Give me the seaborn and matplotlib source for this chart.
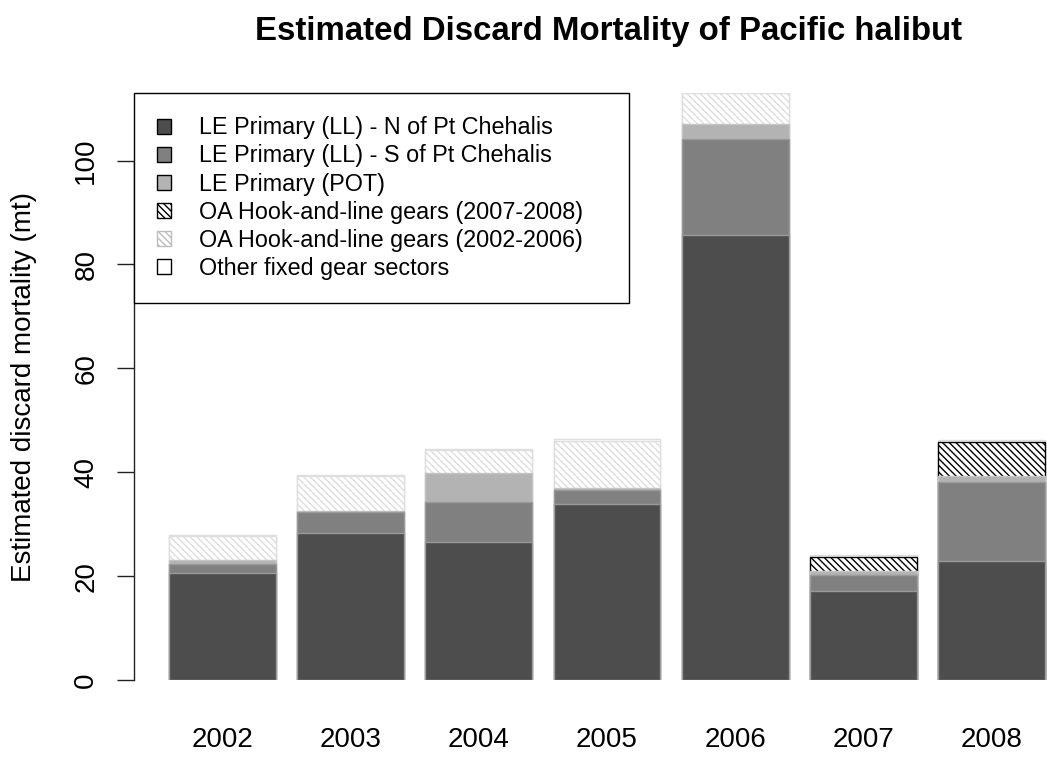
import numpy as np
import pandas as pd
import seaborn as sns
import matplotlib.pyplot as plt
from matplotlib.patches import Patch

years = ['2002', '2003', '2004', '2005', '2006', '2007', '2008']
le_north = [20.6, 28.3, 26.5, 33.9, 85.7, 17.1, 22.9]
le_south = [1.7, 4.1, 7.7, 2.7, 18.5, 3.1, 15.3]
le_pot = [0.8, 0.1, 5.6, 0.3, 2.9, 0.7, 1.0]
oa_0708 = [0, 0, 0, 0, 0, 2.7, 6.6]
oa_0206 = [4.6, 6.7, 4.5, 9.2, 5.9, 0, 0]
other = [0.2, 0.2, 0.2, 0.2, 0.2, 0.5, 0.4]

labels = ['LE Primary (LL) - N of Pt Chehalis', 'LE Primary (LL) - S of Pt Chehalis',
          'LE Primary (POT)', 'OA Hook-and-line gears (2007-2008)',
          'OA Hook-and-line gears (2002-2006)', 'Other fixed gear sectors']

sns.set_theme(style='white')
plt.rcParams['font.family'] = ['Liberation Sans', 'DejaVu Sans']
plt.rcParams['hatch.linewidth'] = 1.0
plt.rcParams['text.color'] = 'black'
plt.rcParams['axes.labelcolor'] = 'black'
plt.rcParams['xtick.color'] = 'black'
plt.rcParams['ytick.color'] = 'black'

# segment styles, bottom to top: (values, face, edge, hatch)
segments = [
    (le_north, '#4d4d4d', '#9a9a9a', ''),
    (le_south, '#808080', '#9a9a9a', ''),
    (le_pot, '#b3b3b3', '#c4c4c4', ''),
    (oa_0708, 'white', 'black', '\\\\\\\\\\'),
    (oa_0206, 'white', '#dedede', '\\\\\\\\\\'),
    (other, 'white', '#dedede', ''),
]

df = pd.DataFrame({'year': years})
cum = np.zeros(len(years))
for i, seg in enumerate(segments):
    cum = cum + np.array(seg[0])
    df['cum%d' % i] = cum

fig = plt.figure(figsize=(10.47, 7.57), dpi=100)
ax = fig.add_axes([134 / 1047, 77 / 757, 913 / 1047, 587 / 757])

# draw the tallest stack first, then cover it with the lower ones
for i in reversed(range(len(segments))):
    vals, face, edge, hatch = segments[i]
    n_before = len(ax.patches)
    sns.barplot(data=df, x='year', y='cum%d' % i, color=face, saturation=1,
                width=0.833, edgecolor=edge, linewidth=1.0, hatch=hatch,
                errorbar=None, ax=ax)
    for bar, v in zip(ax.patches[n_before:], vals):
        bar.set_facecolor(face)
        if v == 0:
            bar.set_visible(False)

ax.set_xlim(-0.69, 6.432)
ax.set_ylim(0, 113)
ax.set_yticks([0, 20, 40, 60, 80, 100])
ax.set_xlabel('')
ax.set_ylabel('Estimated discard mortality (mt)', fontsize=20)
ax.yaxis.set_label_coords(-0.106, 0.5)

for s in ['top', 'right', 'bottom']:
    ax.spines[s].set_visible(False)
ax.spines['left'].set_bounds(0, 100)
ax.spines['left'].set_color('#222222')
ax.spines['left'].set_linewidth(1.0)

ax.tick_params(axis='y', left=True, length=12, width=1.0, color='#222222', pad=13, labelsize=20)
ax.tick_params(axis='x', bottom=False, length=0, pad=34, labelsize=20)
for t in ax.get_yticklabels():
    t.set_rotation(90)
    t.set_va('center')

handles = []
for vals, face, edge, hatch in segments:
    if hatch:
        handles.append(Patch(facecolor='white', edgecolor=edge if edge == 'black' else '#bdbdbd', hatch=hatch))
    else:
        handles.append(Patch(facecolor=face, edgecolor='black', linewidth=1.0))

leg = ax.legend(handles, labels, loc='upper left', bbox_to_anchor=(0, 1, 0.542, 0),
                mode='expand', borderaxespad=0, fontsize=16.8, frameon=True,
                fancybox=False, edgecolor='black', framealpha=1,
                handlelength=0.6, handleheight=0.6, handletextpad=1.2,
                labelspacing=0.22, borderpad=1.0)
leg.get_frame().set_linewidth(1.0)

fig.text(609 / 1047, 1 - 40 / 757, 'Estimated Discard Mortality of Pacific halibut',
         ha='center', va='baseline', fontsize=23.8, fontweight='bold')

fig.savefig('out.png', dpi=100)
